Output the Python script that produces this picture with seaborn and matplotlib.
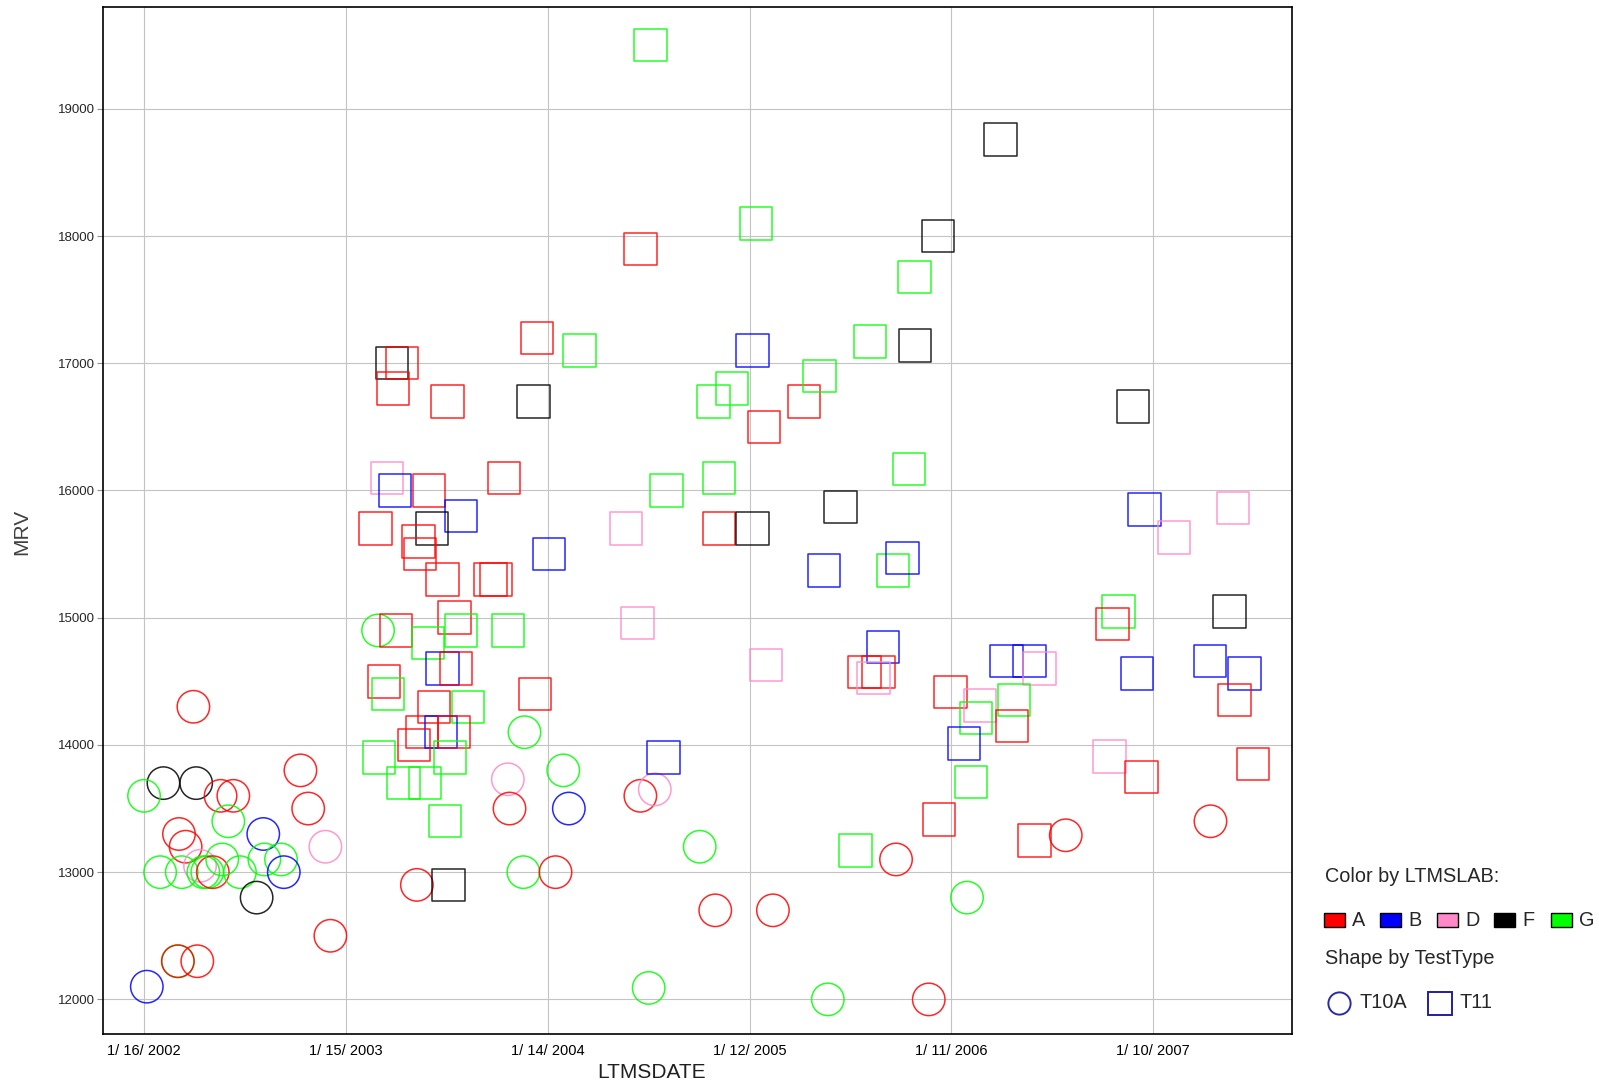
import matplotlib
matplotlib.use('Agg')
import matplotlib.pyplot as plt
import pandas as pd
import seaborn as sns
from matplotlib.patches import Rectangle
from matplotlib.lines import Line2D

# LTMSDATE stored as days after 1/16/2002
start = pd.Timestamp('2002-01-16')

# TestType T10A (circles)
t10a_day = [89, 35, 94, 0, 138, 161, 152, 282, 296, 63,
            75, 215, 327, 29, 68, 101, 107, 114, 124, 141,
            173, 217, 247, 252, 203, 336, 61, 61, 96, 5,
            492, 422, 686, 656, 659, 756, 766, 684, 742, 895,
            921, 910, 1002, 1030, 1134, 1233, 1356, 1415, 1484, 1662,
            1923]
t10a_mrv = [14300, 13700, 13700, 13600, 13600, 13600, 13400, 13800, 13500, 13300,
            13200, 13300, 13200, 13000, 13000, 13050, 13000, 13000, 13000, 13100,
            13000, 13100, 13100, 13000, 12800, 12500, 12300, 12300, 12300, 12100,
            12900, 14900, 14100, 13730, 13500, 13800, 13500, 13000, 13000, 13600,
            13650, 12090, 13200, 12700, 12700, 12000, 13100, 12000, 12800, 13290,
            13400]
t10a_lab = ['A', 'F', 'F', 'G', 'A', 'A', 'G', 'A', 'A', 'A',
            'A', 'B', 'D', 'G', 'G', 'D', 'G', 'G', 'A', 'G',
            'G', 'G', 'G', 'B', 'F', 'A', 'G', 'A', 'A', 'B',
            'A', 'G', 'G', 'D', 'A', 'G', 'B', 'G', 'A', 'A',
            'D', 'G', 'G', 'A', 'A', 'G', 'A', 'A', 'G', 'A',
            'A']

# TestType T11 (squares)
t11_day = [447, 465, 449, 547, 702, 709, 438, 453, 514, 649,
           572, 417, 519, 495, 498, 538, 625, 635, 730, 560,
           572, 656, 454, 512, 538, 563, 433, 440, 523, 584,
           705, 501, 535, 559, 487, 424, 552, 468, 507, 543,
           549,
           785, 895, 913, 1104, 1097, 1060, 1027, 1190, 1218, 1118,
           1037, 942, 869, 1037, 1097, 1256, 1226, 890, 1121, 937,
           1351, 1368, 1333, 1299, 1324, 1315, 1454, 1507, 1500, 1555,
           1597, 1615, 1569, 1565, 1479, 1491, 1433, 1606, 1283,
           1544, 1432, 1389, 1309, 1390, 1379,
           1783, 1804, 1857, 1964, 1957, 1757, 1746, 1790, 1922, 1984,
           1966, 1741, 1799, 2000]
t11_mrv = [17000, 17000, 16800, 16700, 16700, 17200, 16100, 16000, 16000, 16100,
           15800, 15700, 15700, 15600, 15500, 15300, 15300, 15300, 15500, 15000,
           14900, 14900, 14900, 14800, 14600, 14600, 14500, 14400, 14300, 14300,
           14400, 14100, 14100, 14100, 14000, 13900, 13900, 13700, 13700, 13400,
           12900,
           17100, 17900, 19500, 18100, 17100, 16800, 16700, 16700, 16900, 16500,
           16100, 16000, 15700, 15700, 15700, 15870, 15370, 14960, 14630, 13900,
           15370, 15470, 14770, 14575, 14575, 14525, 14415, 14310, 14210, 14660,
           14660, 14600, 14355, 14150, 14010, 13710, 13415, 13250, 13170,
           18760, 18000, 17680, 17170, 17140, 16170,
           16660, 15850, 15630, 15860, 15050, 15050, 14950, 14560, 14660, 14560,
           14355, 13910, 13750, 13850]
t11_lab = ['F', 'A', 'A', 'A', 'F', 'A', 'D', 'B', 'A', 'A',
           'B', 'A', 'F', 'A', 'A', 'A', 'A', 'A', 'B', 'A',
           'G', 'G', 'A', 'G', 'B', 'A', 'A', 'G', 'A', 'G',
           'A', 'A', 'B', 'A', 'A', 'G', 'G', 'G', 'G', 'G',
           'F',
           'G', 'A', 'G', 'G', 'B', 'G', 'G', 'A', 'G', 'A',
           'G', 'G', 'D', 'A', 'F', 'F', 'B', 'D', 'D', 'B',
           'G', 'B', 'B', 'A', 'A', 'D', 'A', 'D', 'G', 'B',
           'B', 'D', 'G', 'A', 'B', 'G', 'A', 'A', 'G',
           'F', 'F', 'G', 'G', 'F', 'G',
           'F', 'B', 'D', 'D', 'F', 'G', 'A', 'B', 'B', 'B',
           'A', 'D', 'A', 'A']

labs = ['A', 'B', 'D', 'F', 'G']
lab_colors = {'A': '#ff0000', 'B': '#0000ff', 'D': '#ff88c8', 'F': '#000000', 'G': '#00ff00'}

tick_days = [0, 364, 728, 1092, 1456, 1820]
tick_labels = ['1/ 16/ 2002', '1/ 15/ 2003', '1/ 14/ 2004', '1/ 12/ 2005', '1/ 11/ 2006', '1/ 10/ 2007']
y_ticks = [12000, 13000, 14000, 15000, 16000, 17000, 18000, 19000]

df = pd.concat([
    pd.DataFrame({'day': t10a_day, 'MRV': t10a_mrv, 'LTMSLAB': t10a_lab, 'TestType': 'T10A'}),
    pd.DataFrame({'day': t11_day, 'MRV': t11_mrv, 'LTMSLAB': t11_lab, 'TestType': 'T11'}),
], ignore_index=True)
df['LTMSDATE'] = start + pd.to_timedelta(df['day'], unit='D')

sns.set_style('white')
plt.rcParams['font.family'] = ['Liberation Sans', 'DejaVu Sans']

W, H = 1599, 1084
fig = plt.figure(figsize=(W / 100, H / 100), dpi=100)
ax = fig.add_axes([103 / W, 1 - 1034 / H, (1292 - 103) / W, (1034 - 7) / H])

sns.scatterplot(data=df, x='LTMSDATE', y='MRV', hue='LTMSLAB', hue_order=labs,
                style='TestType', markers={'T10A': 'o', 'T11': 's'},
                palette=lab_colors, s=545, linewidth=1.1, alpha=0.85,
                legend=False, ax=ax)
# hollow markers: edge takes the hue colour
for coll in ax.collections:
    coll.set_edgecolors(coll.get_facecolors())
    coll.set_facecolors('none')

ax.set_xlim(start - pd.Timedelta(days=74), start + pd.Timedelta(days=2070))
ax.set_ylim(11728, 19800)
ax.set_xticks([start + pd.Timedelta(days=d) for d in tick_days])
ax.set_xticklabels(tick_labels)
ax.set_yticks(y_ticks)
ax.set_yticklabels([str(v) for v in y_ticks])
ax.set_xlabel('')
ax.set_ylabel('')
ax.grid(True, color='#c4c4c4', lw=0.8)
ax.set_axisbelow(True)
ax.tick_params(axis='x', length=0, pad=7, labelsize=10.5, colors='black')
ax.tick_params(axis='y', left=True, length=4, width=0.8, color='#909090', pad=2, labelsize=9.5)
for sp in ax.spines.values():
    sp.set_color('black')
    sp.set_linewidth(1.2)

fig.text(652 / W, 1 - 1072 / H, 'LTMSDATE', ha='center', va='center', fontsize=15, color='#202020')
fig.text(22 / W, 1 - 532 / H, 'MRV', ha='center', va='center', rotation=90, fontsize=15, color='#404040')

# legend
leg_fs = 14.3
fig.text(1325 / W, 1 - 877 / H, 'Color by LTMSLAB:', ha='left', va='center', fontsize=leg_fs)
sw_x = [1324, 1380, 1437, 1494, 1551]
for lab, x in zip(labs, sw_x):
    fig.add_artist(Rectangle((x / W, 1 - 927 / H), 21 / W, 14 / H, transform=fig.transFigure,
                             facecolor=lab_colors[lab], edgecolor='black', lw=1))
    fig.text((x + 28) / W, 1 - 920 / H, lab, ha='left', va='center', fontsize=leg_fs)
fig.text(1325 / W, 1 - 959 / H, 'Shape by TestType', ha='left', va='center', fontsize=leg_fs)
fig.add_artist(Line2D([1339 / W], [1 - 1003 / H], transform=fig.transFigure, marker='o',
                      markersize=16, markerfacecolor='none', markeredgecolor='#2a2aa8',
                      markeredgewidth=1.4, linestyle='none'))
fig.text(1360 / W, 1 - 1002 / H, 'T10A', ha='left', va='center', fontsize=leg_fs)
fig.add_artist(Rectangle((1428 / W, 1 - 1015 / H), 24 / W, 23 / H, transform=fig.transFigure,
                         facecolor='none', edgecolor='#2020a0', lw=1.4))
fig.text(1460 / W, 1 - 1002 / H, 'T11', ha='left', va='center', fontsize=leg_fs)

fig.savefig('out.png', dpi=100)
